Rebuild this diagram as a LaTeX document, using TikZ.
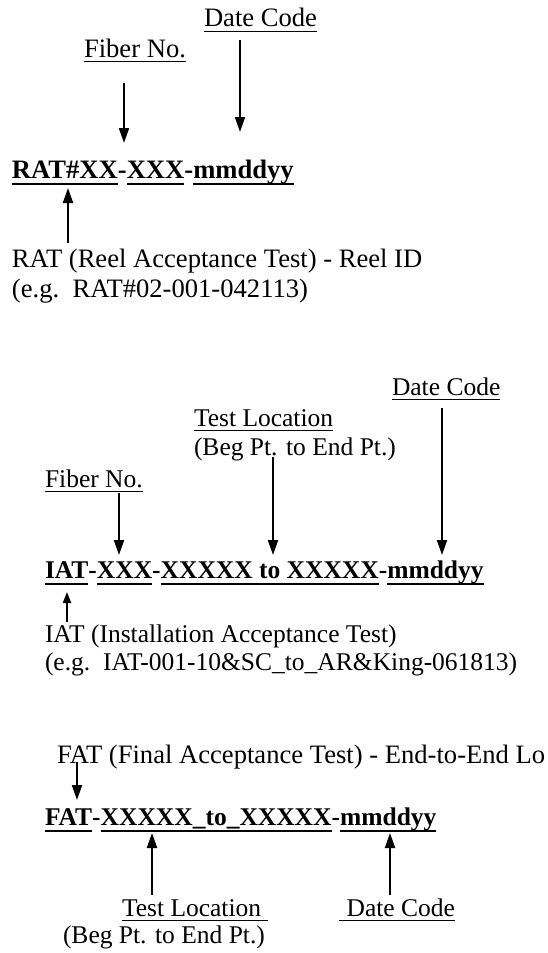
\documentclass[tikz,border=0pt]{standalone}
\usepackage{fontspec}
\setmainfont{Liberation Serif}
\usetikzlibrary{arrows.meta}

\newcommand\lblfont{\fontsize{25.5pt}{30pt}\selectfont}
\newcommand\ttlfont{\fontsize{25.5pt}{30pt}\selectfont\bfseries}
\newcommand\lblfontL{\fontsize{26.6pt}{31pt}\selectfont}
\newcommand\ttlfontL{\fontsize{26.6pt}{31pt}\selectfont\bfseries}
% underline a node: thin for labels, heavy for the bold identifiers
\newcommand\ULn[1]{\draw[ulthin] ([yshift=-4.5pt]#1.base west) -- ([yshift=-4.5pt]#1.base east);}
\newcommand\ULb[1]{\draw[ulbold] ([yshift=-6pt]#1.base west) -- ([yshift=-6pt]#1.base east);}

\tikzset{
  lbl/.style={font=\lblfont, inner sep=0pt, outer sep=0pt, anchor=base west},
  ttl/.style={font=\ttlfont, inner sep=0pt, outer sep=0pt, anchor=base west},
  lblL/.style={lbl, font=\lblfontL},
  ttlL/.style={ttl, font=\ttlfontL},
  ulthin/.style={line width=1.4pt},
  ulbold/.style={line width=2.5pt},
  arr/.style={line width=2pt, -{Triangle[width=10pt,length=15pt]}},
  arrsmall/.style={line width=2pt, -{Triangle[width=8pt,length=11pt]}},
}

\begin{document}
\begin{tikzpicture}[x=1pt,y=-1pt]
\useasboundingbox (0,0) rectangle (547,953);
\fill[white] (0,0) rectangle (547,953);
\clip (0,0) rectangle (547,953);

% ---------------- Reel Acceptance Test ----------------
\node[lblL] (rdate) at (204,27) {Date Code};  \ULn{rdate}
\node[lblL] (rfib)  at (84,57)  {Fiber No.};  \ULn{rfib}

\node[ttlL] (ra) at (12,178)      {RAT\#XX};
\node[ttlL] (rb) at (ra.base east) {-};
\node[ttlL] (rc) at (rb.base east) {XXX};
\node[ttlL] (rd) at (rc.base east) {-};
\node[ttlL] (re) at (rd.base east) {mmddyy};
\ULb{ra} \ULb{rc} \ULb{re}

\coordinate (rfibS) at (124,83);   \coordinate (rfibE) at (124,143);
\coordinate (rdateS) at (240,40);  \coordinate (rdateE) at (240,132);
\draw[arr] (rfibS) -- (rfibE);
\draw[arr] (rdateS) -- (rdateE);

\node[lblL] (rdesc) at (12,267) {RAT (Reel Acceptance Test) - Reel ID};
\node[lblL] (rex)   at (12,297) {(e.g.\ \ RAT\#02-001-042113)};
\coordinate (ridS) at (68,243); \coordinate (ridE) at (68,188);
\draw[arr] (ridS) -- (ridE);

% ---------------- Installation Acceptance Test ----------------
\node[lbl] (idate) at (392,395) {Date Code};      \ULn{idate}
\node[lbl] (iloc)  at (194,426) {Test Location};  \ULn{iloc}
\node[lbl] (ibeg)  at (194,455) {(Beg Pt. to End Pt.)};
\node[lbl] (ifib)  at (45,487)  {Fiber No.};      \ULn{ifib}

\node[ttl] (ia) at (45,578)       {IAT};
\node[ttl] (ib) at (ia.base east) {-};
\node[ttl] (ic) at (ib.base east) {XXX};
\node[ttl] (id) at (ic.base east) {-};
\node[ttl] (ie) at (id.base east) {XXXXX to XXXXX};
\node[ttl] (if) at (ie.base east) {-};
\node[ttl] (ig) at (if.base east) {mmddyy};
\ULb{ia} \ULb{ic} \ULb{ie} \ULb{ig}

\coordinate (ifibS) at (119,493);  \coordinate (ifibE) at (119,555);
\coordinate (ilocS) at (273,457);  \coordinate (ilocE) at (273,555);
\coordinate (idateS) at (442,408); \coordinate (idateE) at (442,555);
\draw[arr] (ifibS) -- (ifibE);
\draw[arr] (ilocS) -- (ilocE);
\draw[arr] (idateS) -- (idateE);

\node[lbl] (idesc) at (45,642) {IAT (Installation Acceptance Test)};
\node[lbl] (iex)   at (45,670) {(e.g.\ \ IAT-001-10\&SC\_to\_AR\&King-061813)};
\coordinate (iidS) at (67,622); \coordinate (iidE) at (67,592);
\draw[arrsmall] (iidS) -- (iidE);

% ---------------- Final Acceptance Test ----------------
\node[lblL] (fdesc) at (57,763) {FAT (Final Acceptance Test) - End-to-End Lo};

\node[ttl] (fa) at (45,825)       {FAT};
\node[ttl] (fb) at (fa.base east) {-};
\node[ttl] (fc) at (fb.base east) {XXXXX\_to\_XXXXX};
\node[ttl] (fd) at (fc.base east) {-};
\node[ttl] (fe) at (fd.base east) {mmddyy};
\ULb{fa} \ULb{fc} \ULb{fe}

\coordinate (fidS) at (77,762); \coordinate (fidE) at (77,800);
\draw[arr] (fidS) -- (fidE);

\node[lbl] (floc)  at (122,916) {Test Location\kern0.25em}; \ULn{floc}
\node[lbl] (fdate) at (339,916) {\kern0.3em Date Code};     \ULn{fdate}
\node[lbl] (fbeg)  at (63,943)  {(Beg Pt. to End Pt.)};

\coordinate (flocS) at (152,895);  \coordinate (flocE) at (152,833);
\coordinate (fdateS) at (390,895); \coordinate (fdateE) at (390,833);
\draw[arr] (flocS) -- (flocE);
\draw[arr] (fdateS) -- (fdateE);
\end{tikzpicture}
\end{document}
